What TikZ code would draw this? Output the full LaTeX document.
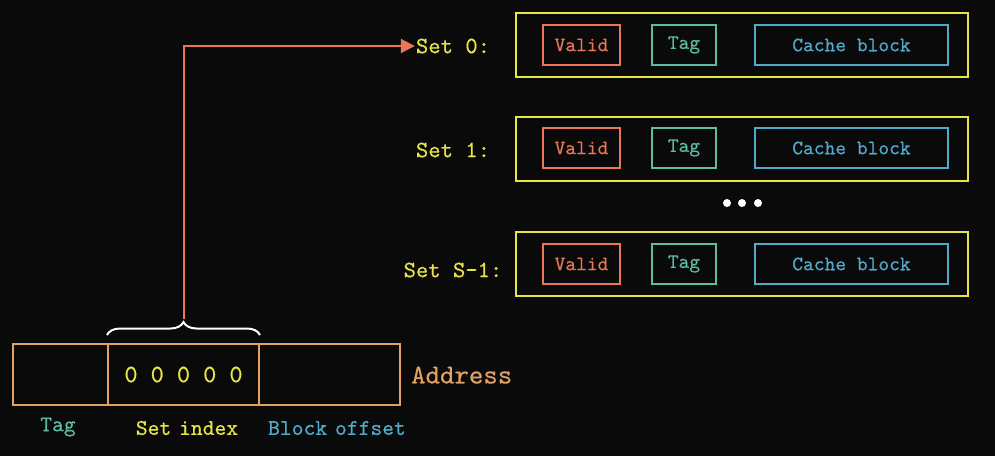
\documentclass[tikz,border=0pt]{standalone}
\usepackage{fontspec}
\setmonofont{lmmono10-regular.otf}[FakeBold=0.35]
\usetikzlibrary{arrows.meta,decorations.pathreplacing}
\definecolor{bgc}{HTML}{0A0A0A}
\definecolor{ylw}{HTML}{E8E646}
\definecolor{org}{HTML}{EA7658}
\definecolor{teal}{HTML}{5EBCA4}
\definecolor{blu}{HTML}{52AACA}
\definecolor{adr}{HTML}{E2A264}
\tikzset{
  setbox/.style={draw=ylw, line width=2pt, minimum width=452pt, minimum height=64pt, inner sep=0pt},
  inner/.style={line width=2pt, minimum height=40pt, inner sep=0pt, font=\fontsize{20.5}{24}\selectfont\ttfamily},
  validbox/.style={inner, draw=org, text=org, minimum width=77pt},
  tagbox/.style={inner, draw=teal, text=teal, minimum width=64pt},
  cachebox/.style={inner, draw=blu, text=blu, minimum width=193pt},
  setlbl/.style={text=ylw, inner sep=1pt, font=\fontsize{23.5}{28}\selectfont\ttfamily},
  cell/.style={draw=adr, line width=2pt, minimum height=61pt, inner sep=0pt},
  under/.style={inner sep=0pt, font=\fontsize{22.5}{26}\selectfont\ttfamily},
  dotn/.style={circle, fill=white, minimum size=8pt, inner sep=0pt},
}
\begin{document}
\begin{tikzpicture}[x=1pt,y=-1pt]
\fill[bgc] (0,0) rectangle (995,456);
\useasboundingbox (0,0) rectangle (995,456);

% sets
\node[setbox] (s0) at (742,45) {};
\node[setbox] (s1) at (742,149) {};
\node[setbox] (s2) at (742,264) {};

\node[validbox] (v0) at (581.5,45) {Valid};
\node[tagbox] (t0) at (684,45) {\raisebox{2pt}{Tag}};
\node[cachebox] (c0) at (851.5,45) {Cache block};
\node[validbox] (v1) at (581.5,148) {Valid};
\node[tagbox] (t1) at (684,148) {\raisebox{2pt}{Tag}};
\node[cachebox] (c1) at (851.5,148) {Cache block};
\node[validbox] (v2) at (581.5,264) {Valid};
\node[tagbox] (t2) at (684,264) {\raisebox{2pt}{Tag}};
\node[cachebox] (c2) at (851.5,264) {Cache block};

\node[setlbl] (l0) at (453,46) {Set 0:};
\node[setlbl] (l1) at (453,150) {Set 1:};
\node[setlbl] (l2) at (453,270) {Set S-1:};

\node[dotn] (d1) at (727,203) {};
\node[dotn] (d2) at (742,203) {};
\node[dotn] (d3) at (758,203) {};

% address
\node[cell, minimum width=95pt] (ct) at (60.5,374.5) {};
\node[cell, minimum width=151pt, text=ylw, font=\fontsize{25}{30}\selectfont\ttfamily] (ci) at (183.5,374.5) {0 0 0 0 0};
\node[cell, minimum width=141pt] (co) at (329.5,374.5) {};
\node[anchor=west, text=adr, inner sep=0pt, font=\fontsize{27.5}{32}\selectfont\ttfamily] (addr) at (411,375) {Address};

\node[under, text=teal] (lt) at (58,427) {Tag};
\node[under, text=ylw] (li) at (187,428) {Set\hspace{-4pt} index};
\node[under, text=blu] (lo) at (337,428) {Block\hspace{-4pt} offset};

% brace
\coordinate (bl) at ([yshift=8pt]ci.north west);
\coordinate (br) at ([yshift=8pt]ci.north east);
\draw[white, line width=2pt, decorate, decoration={brace, amplitude=13pt}] (bl) -- (br);
\coordinate (btip) at (183.5,319);

\draw[org, line width=2pt, -{Triangle[length=14pt,width=14pt]}] (btip) |- (l0.west);
\end{tikzpicture}
\end{document}
